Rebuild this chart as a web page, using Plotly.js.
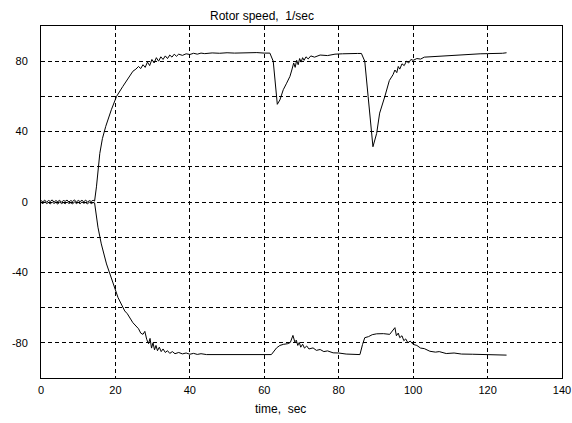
<!DOCTYPE html>
<html><head><meta charset="utf-8">
<script src="https://cdn.plot.ly/plotly-3.0.1.min.js"></script>
<style>html,body{margin:0;padding:0;background:#fff;}</style>
</head><body><div id="chart" style="width:572px;height:423px;"></div>
<script>
// Upper rotor speed curve
const tUp = [0,0.5,1,1.5,2,2.5,3,3.5,4,4.5,5,5.5,6,6.5,7,7.5,8,8.5,9,9.5,10,10.5,11,11.5,12,12.5,13,13.5,14,
  14.4,14.9,15.8,16.5,17.4,18.9,20.3,22.0,23.3,24.7,
  25.5,26.2,26.8,27.4,28.0,28.6,29.2,29.8,30.4,31.0,
  31.6,32.2,32.8,33.4,34.0,34.6,35.2,35.8,36.4,37.0,
  38,39,40,41,42,43,44,46,48,50,
  52,54,56,58,60,61.5,62.4,63.0,63.5,64.2,
  65.1,66.0,66.9,67.4,67.9,68.3,68.7,69.1,69.5,69.9,
  70.3,70.7,71.2,71.8,72.5,73.5,75,77,79,81,
  83,85,86.1,87.0,87.9,88.6,89.2,90.2,91.0,92.4,
  93.0,93.6,94.2,94.6,95.1,95.6,96.0,96.4,97,97.6,
  98.2,98.8,99.4,100,101,102,103,104.5,106,108,
  110,113.4,116,118,120,122,124,125.1];
const vUp = [0.8,0.1,1.1,-0.2,0.9,0.3,1.2,-0.1,0.8,0.2,1.0,-0.2,0.9,0.4,1.1,0,0.8,0.3,1.2,-0.1,0.9,0.2,1.0,0.1,1.1,-0.1,0.8,0.3,1.0,
  0.5,8.6,27.6,36,43,52.4,60,65.7,70,74.3,
  75.5,77,75.8,78,76.5,79.5,77.5,81,79,82,
  80,82.5,81,83,81.5,83.5,82.3,84,82.8,84,
  83.3,84.2,83.8,84.5,84,84.6,84.3,84.7,84.5,84.8,
  84.6,84.8,84.7,84.9,84.6,84.6,80,66,55.5,58,
  63.8,67.5,71.4,75,79,76.5,80.5,78,81.5,79.5,
  82,80.5,82.5,81.3,83,82.3,83.5,83.2,84,84.2,
  84.5,84.4,84.4,80,60,45,31.4,39,50.5,60,
  64,69,71,72.4,75,73.5,77,75.5,78.5,77.5,
  80,79,81,80.5,81.5,81.2,82.3,82.5,83,83.2,
  83.5,83.8,84,84.2,84.3,84.3,84.5,84.8];

// Lower rotor speed curve
const tLow = [0,0.5,1,1.5,2,2.5,3,3.5,4,4.5,5,5.5,6,6.5,7,7.5,8,8.5,9,9.5,10,10.5,11,11.5,12,12.5,13,13.5,14,
  14.4,15.3,16.2,17.6,19.4,20.7,22.5,23.2,24.7,25.5,
  26.2,26.8,27.4,27.9,28.4,28.9,29.3,29.7,30.1,30.5,
  30.9,31.3,31.8,32.3,32.8,33.4,34,34.6,35.3,36,
  37,38,39,40,41,42,43,44.5,50,55,
  61.9,63.3,64.2,65.1,66.3,67.0,67.7,68.2,68.6,69.0,
  69.4,69.8,70.3,70.8,71.4,72.0,73.1,74,75,76,
  77,78.5,80,82,84,85.7,86.4,87.0,88,89,
  90.2,92,93.7,94.3,95.1,95.5,96.0,96.4,97.0,97.5,
  98.0,98.6,99.2,100,101,102,103,104.5,106,107,
  108.9,111,113,116,119,122,124,125.1];
const vLow = [-0.2,-1.0,0.1,-0.9,-0.3,-1.1,0,-0.8,-0.2,-1.2,0.1,-0.9,-0.3,-1.0,0,-0.8,-0.4,-1.1,0.1,-0.9,-0.2,-1.0,0,-0.7,-0.3,-1.1,0,-0.9,-0.3,
  -0.5,-14.3,-23.8,-35.2,-46.7,-54.3,-61.9,-63.5,-68.6,-70.5,
  -72,-74.5,-75.2,-73.5,-78,-80.5,-77.5,-83,-80,-84,
  -81.5,-84.5,-82.5,-85,-83.5,-85.5,-84.5,-86,-85,-86.2,
  -85.5,-86.3,-85.8,-86.5,-86,-86.6,-86.2,-86.7,-86.7,-86.7,
  -86.7,-82.9,-81.5,-80.9,-80.5,-79.8,-75.8,-79.5,-78.5,-81.5,
  -79.8,-82.5,-80.8,-83,-81.8,-83.5,-82.9,-84.3,-83.8,-85,
  -84.6,-85.7,-85.8,-86.4,-86.6,-86.7,-81,-77.1,-76.5,-75.4,
  -74.9,-74.8,-75.2,-73.5,-71.4,-76,-74.5,-77.1,-76,-78.8,
  -77.8,-80,-79,-80.9,-81.5,-83,-83.3,-84.8,-85.3,-85,
  -86.1,-85.8,-86.4,-86.5,-86.6,-86.8,-86.7,-87];

const xTicks = [0,20,40,60,80,100,120,140];
const xTickText = ['0','20','40','60','80','100','120','140'];
const yTicks = [-100,-80,-60,-40,-20,0,20,40,60,80,100];
const yTickText = ['','-80','','-40','','0','','40','','80',''];

const FONT = 'Liberation Sans, Arial, sans-serif';
const traces = [
  {x: tUp, y: vUp, type: 'scatter', mode: 'lines', line: {color: '#000', width: 1}, hoverinfo: 'skip'},
  {x: tLow, y: vLow, type: 'scatter', mode: 'lines', line: {color: '#000', width: 1}, hoverinfo: 'skip'}
];
const axisCommon = {
  showline: true, linecolor: '#000', linewidth: 1, mirror: true,
  showgrid: true, gridcolor: '#000', gridwidth: 1, griddash: '4px,3px',
  zeroline: false, ticks: '', tickfont: {family: FONT, size: 11, color: '#000'},
  tickmode: 'array', fixedrange: true
};
const layout = {
  width: 572, height: 423,
  margin: {l: 41, r: 10, t: 26, b: 45},
  paper_bgcolor: '#fff', plot_bgcolor: '#fff',
  showlegend: false,
  title: {text: 'Rotor speed,\u00A0 1/sec', font: {family: FONT, size: 12, color: '#000'},
          x: 262/572, xref: 'container', xanchor: 'center', y: 1 - 16/423, yref: 'container', yanchor: 'middle'},
  xaxis: Object.assign({}, axisCommon, {range: [0, 140], tickvals: xTicks, ticktext: xTickText, ticklabelstandoff: 2}),
  yaxis: Object.assign({}, axisCommon, {range: [-100, 100], tickvals: yTicks, ticktext: yTickText, ticklabelstandoff: 10}),
  annotations: [{text: 'time,\u00A0 sec', xref: 'paper', yref: 'paper', x: (280-41)/521, y: -31/352,
    xanchor: 'center', yanchor: 'middle', showarrow: false, font: {family: FONT, size: 12, color: '#000'}}]
};
Plotly.newPlot('chart', traces, layout, {displayModeBar: false, staticPlot: true});
</script>
</body></html>
